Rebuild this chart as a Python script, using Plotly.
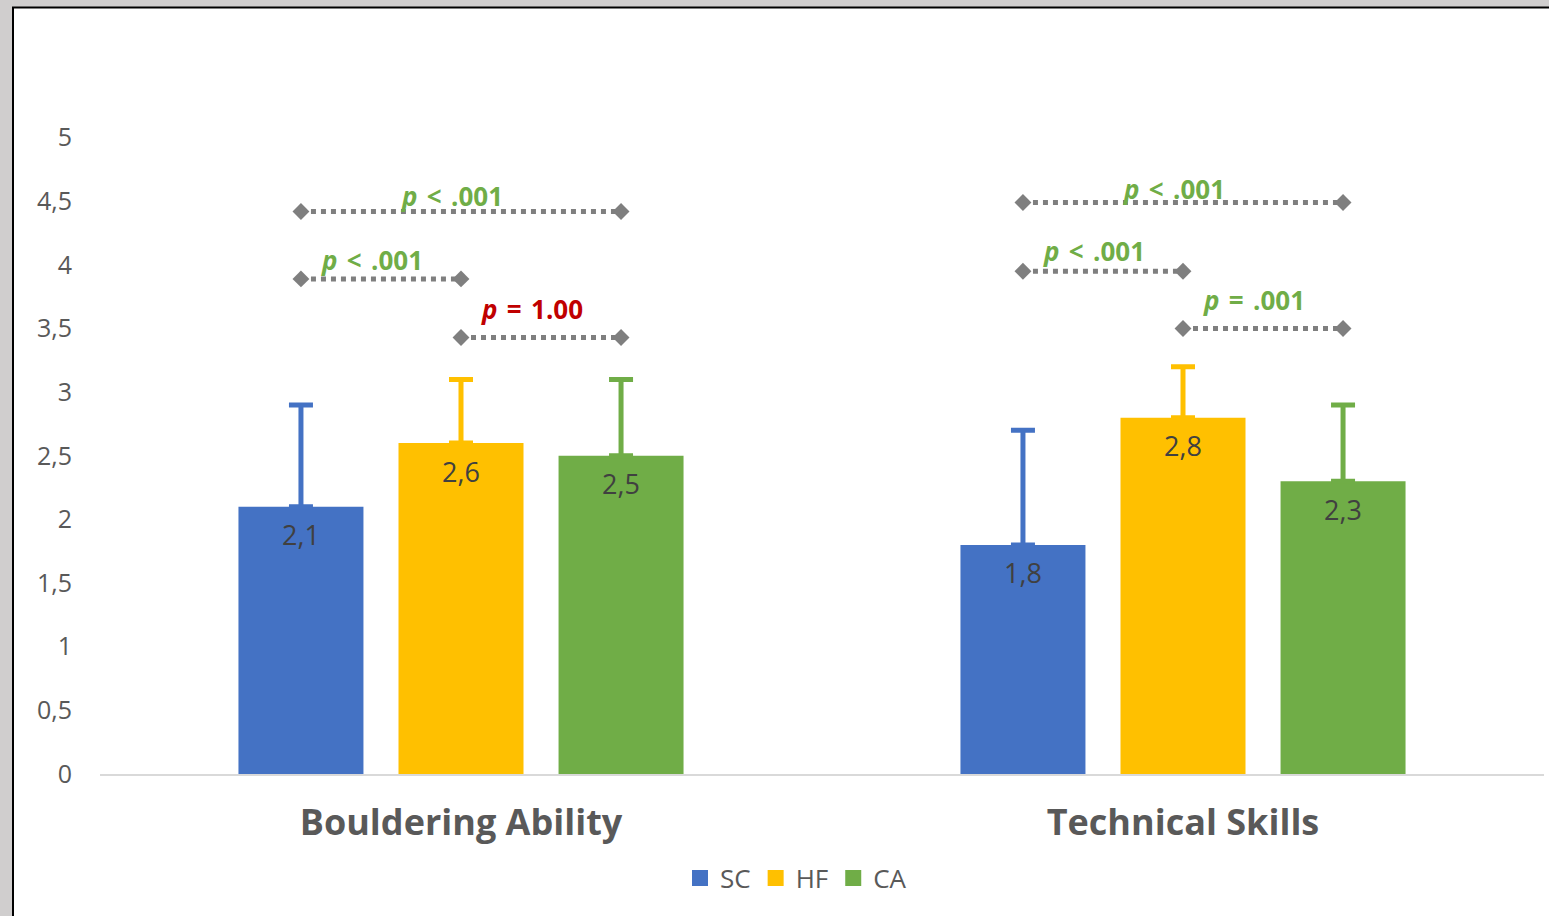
import plotly.graph_objects as go

# Mean scores (and SD) per group for each domain
categories = ["Bouldering Ability", "Technical Skills"]
groups = ["SC", "HF", "CA"]
sc_mean = [2.1, 1.8]
hf_mean = [2.6, 2.8]
ca_mean = [2.5, 2.3]
sc_sd = [0.8, 0.9]
hf_sd = [0.5, 0.4]
ca_sd = [0.6, 0.6]
y_ticks = [0, 0.5, 1, 1.5, 2, 2.5, 3, 3.5, 4, 4.5, 5]

# Pairwise comparisons: domain index, the two groups, p statement, bracket height
cmp_domain = [0, 0, 0, 1, 1, 1]
cmp_left = ["SC", "SC", "HF", "SC", "SC", "HF"]
cmp_right = ["CA", "HF", "CA", "CA", "HF", "CA"]
cmp_op = ["<", "<", "=", "<", "<", "="]
cmp_p = [".001", ".001", "1.00", ".001", ".001", ".001"]
cmp_level = [4.42, 3.89, 3.43, 4.49, 3.95, 3.50]

# styling
colors = {"SC": "#4472C4", "HF": "#FFC000", "CA": "#70AD47"}
means = {"SC": sc_mean, "HF": hf_mean, "CA": ca_mean}
sds = {"SC": sc_sd, "HF": hf_sd, "CA": ca_sd}
label_lift = [15, 19, 28, 14, 20, 29]
FONT = "Open Sans"
TXT = "#595959"
BARGAP = 0.335
BARGROUPGAP = 0.219
slot = (1 - BARGAP) / len(groups)


def center(domain, group):
    return domain + (groups.index(group) - (len(groups) - 1) / 2) * slot


fig = go.Figure()
x_pos = list(range(len(categories)))

for g in groups:
    fig.add_trace(go.Bar(
        x=x_pos, y=means[g], name=g, showlegend=False,
        marker=dict(color=colors[g], line=dict(width=0)),
        error_y=dict(type="data", symmetric=False, array=sds[g],
                     arrayminus=[0] * len(sds[g]), color=colors[g],
                     thickness=5, width=12),
    ))
    # legend entry with a larger swatch
    fig.add_trace(go.Scatter(
        x=[None], y=[None], mode="markers", name=g,
        marker=dict(symbol="square", size=18, color=colors[g]),
    ))
    for i, v in enumerate(means[g]):
        fig.add_annotation(
            x=center(i, g), y=v, xref="x", yref="y",
            text=f"{v:.1f}".replace(".", ","), showarrow=False,
            yanchor="middle", yshift=-28,
            font=dict(family=FONT, size=27, color="#404040"),
        )

# significance brackets
for k in range(len(cmp_domain)):
    x0 = center(cmp_domain[k], cmp_left[k])
    x1 = center(cmp_domain[k], cmp_right[k])
    lvl = cmp_level[k]
    fig.add_trace(go.Scatter(
        x=[x0, x1], y=[lvl, lvl], mode="lines+markers", showlegend=False,
        hoverinfo="skip",
        line=dict(color="#7F7F7F", width=5, dash="dot"),
        marker=dict(symbol="diamond", size=13, color="#7F7F7F"),
    ))
    significant = float(cmp_p[k]) < 0.05
    op = "&lt;" if cmp_op[k] == "<" else "="
    fig.add_annotation(
        x=(x0 + x1) / 2 - 0.012, y=lvl, xref="x", yref="y",
        text=f"<b><i>p</i>&#8202; {op}&#8202; {cmp_p[k]}</b>",
        showarrow=False, yanchor="middle", yshift=label_lift[k],
        font=dict(family=FONT, size=26,
                  color="#70AD47" if significant else "#C00000"),
    )

# white chart panel with a dark frame
fig.add_shape(type="rect", xref="paper", yref="paper", layer="below",
              x0=(13 - 100) / 1444, x1=1.2, y0=-0.5, y1=(774 - 7.5) / 700,
              fillcolor="white", line=dict(color="black", width=2))

fig.update_layout(
    width=1549, height=916,
    margin=dict(l=100, r=5, t=74, b=142),
    paper_bgcolor="#D0CECE", plot_bgcolor="rgba(0,0,0,0)",
    barmode="group", bargap=BARGAP, bargroupgap=BARGROUPGAP,
    separators=", ",
    showlegend=True,
    legend=dict(orientation="h", x=(796 - 100) / 1444, xanchor="center",
                y=(774 - 878) / 700, yanchor="middle",
                font=dict(family=FONT, size=26, color=TXT),
                bgcolor="rgba(0,0,0,0)", itemsizing="trace"),
    font=dict(family=FONT, color=TXT),
)
fig.update_xaxes(
    range=[-0.5, 1.5], tickvals=x_pos, ticktext=categories,
    showgrid=False, zeroline=False, showline=True,
    linecolor="#D9D9D9", linewidth=2, ticks="",
    tickfont=dict(family=FONT, size=36, color=TXT, weight="bold"),
    ticklabelstandoff=16,
)
fig.update_yaxes(
    range=[0, 5.5], tickvals=y_ticks, showgrid=False, zeroline=False,
    showline=False, ticks="",
    tickfont=dict(family=FONT, size=25, color=TXT),
    ticklabelstandoff=27,
)

fig.write_html("out.html")
